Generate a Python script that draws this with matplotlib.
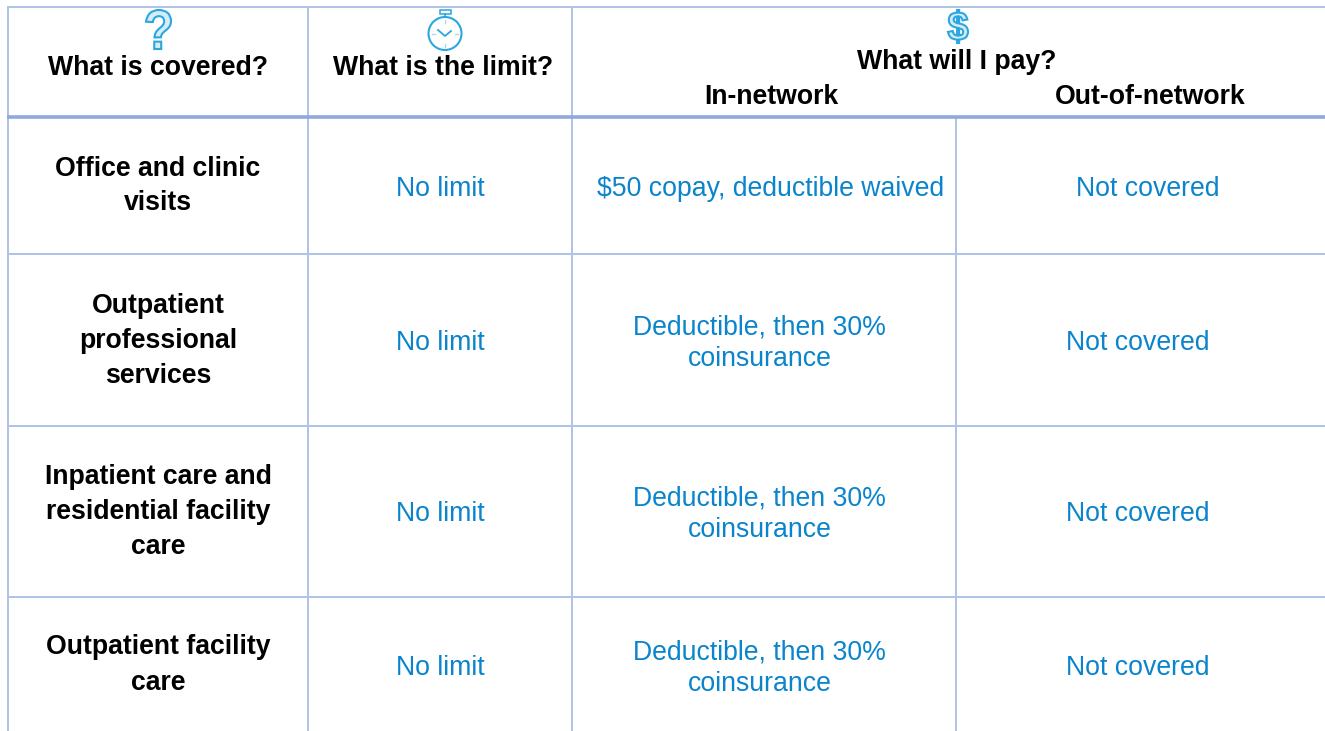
import matplotlib
matplotlib.use("Agg")
import matplotlib.pyplot as plt
from matplotlib.patches import Circle, Rectangle, PathPatch
from matplotlib.textpath import TextPath
from matplotlib.font_manager import FontProperties
from matplotlib.transforms import Affine2D

plt.rcParams['font.family'] = ['Liberation Sans', 'DejaVu Sans']

W, H = 1325, 731
LINE = '#B0C2E6'
THICK = '#8EA9DB'
BLUE = '#0A84CC'
ICON = '#2AA7E0'

col_headers = ["What is covered?", "What is the limit?"]
pay_header = "What will I pay?"
sub_headers = ["In-network", "Out-of-network"]
services = ["Office and clinic\nvisits", "Outpatient\nprofessional\nservices",
            "Inpatient care and\nresidential facility\ncare", "Outpatient facility\ncare"]
limits = ["No limit", "No limit", "No limit", "No limit"]
in_network = ["$50 copay, deductible waived", "Deductible, then 30%\ncoinsurance",
              "Deductible, then 30%\ncoinsurance", "Deductible, then 30%\ncoinsurance"]
out_network = ["Not covered", "Not covered", "Not covered", "Not covered"]

row_y = [189, 343, 514, 668]
service_y = [186, 341, 512, 665]
service_x = 158
limit_x = 440
in_x = 770.5
in_x_wrapped = 759.5
out_x = [1148, 1137.5, 1137.5, 1137.5]

fig = plt.figure(figsize=(W / 100, H / 100), dpi=100)
ax = fig.add_axes([0, 0, 1, 1])
ax.set_xlim(0, W)
ax.set_ylim(H, 0)
ax.axis('off')

lw = 2 * 0.72
for x, y0, y1 in [(8, 7, H), (308, 7, H), (572, 7, H), (956, 117, H)]:
    ax.plot([x, x], [y0, y1], color=LINE, lw=lw, solid_capstyle='butt')
for y in [7, 254, 426, 597]:
    ax.plot([7, W], [y, y], color=LINE, lw=lw, solid_capstyle='butt')
ax.plot([7, W], [117, 117], color=THICK, lw=3.6 * 0.72, solid_capstyle='butt')

FS = 19.2
for x, y, s in [(158, 68, col_headers[0]), (443.5, 68, col_headers[1]), (957, 62, pay_header),
                (771, 97, sub_headers[0]), (1150, 97, sub_headers[1])]:
    ax.text(x, y, s, ha='center', va='center', fontsize=FS, fontweight='bold', color='black')

for i, y in enumerate(row_y):
    ax.text(service_x, service_y[i], services[i], ha='center', va='center', fontsize=FS,
            fontweight='bold', color='black', linespacing=1.45)
    ax.text(limit_x, y, limits[i], ha='center', va='center', fontsize=FS, color=BLUE)
    ax.text(in_x if i == 0 else in_x_wrapped, y, in_network[i], ha='center', va='center',
            fontsize=FS, color=BLUE, linespacing=1.29)
    ax.text(out_x[i], y, out_network[i], ha='center', va='center', fontsize=FS, color=BLUE)


def glyph(s, x0, x1, y0, y1):
    """Outlined glyph stretched into a pixel box (y0 above y1 on screen)."""
    tp = TextPath((0, 0), s, size=1, prop=FontProperties(family='Liberation Sans', weight='bold'))
    b = tp.get_extents()
    tr = Affine2D().translate(-b.x0, -b.y1).scale((x1 - x0) / b.width, -(y1 - y0) / b.height).translate(x0, y0)
    ax.add_patch(PathPatch(tr.transform_path(tp), fc='#D5EDF9', ec=ICON, lw=1.5))


glyph('?', 146, 171, 10, 49)
glyph('$', 948, 968, 10, 43)

ax.add_patch(Circle((445, 33.5), 16.5, fill=False, ec=ICON, lw=1.5))
ax.add_patch(Rectangle((440, 10), 11, 3.5, fill=False, ec=ICON, lw=1.1))
ax.plot([445, 445], [13.5, 17], color=ICON, lw=1.2)
ax.plot([438, 445, 451], [30, 36, 31], color=ICON, lw=1.3)
for x0, y0, x1, y1 in [(445, 20, 445, 23), (445, 44, 445, 47), (432, 33.5, 435, 33.5), (455, 33.5, 458, 33.5)]:
    ax.plot([x0, x1], [y0, y1], color='#A8DAF2', lw=1)

fig.savefig('out.png', dpi=100)
